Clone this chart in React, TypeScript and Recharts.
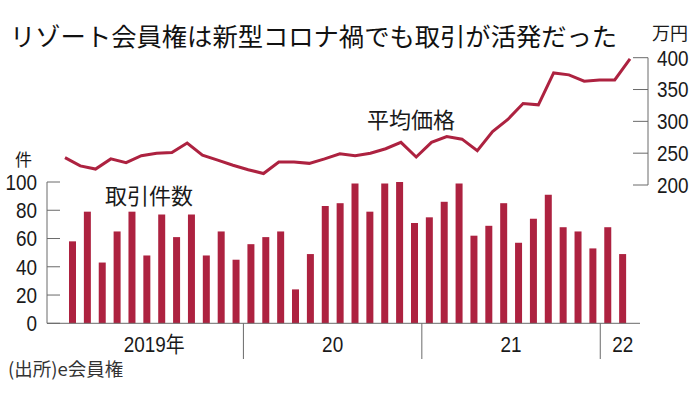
import React from 'react';
import { ComposedChart, Bar, Line, XAxis, YAxis } from 'recharts';

const months = [
  '2019-01', '2019-02', '2019-03', '2019-04', '2019-05', '2019-06', '2019-07', '2019-08', '2019-09', '2019-10', '2019-11', '2019-12',
  '2020-01', '2020-02', '2020-03', '2020-04', '2020-05', '2020-06', '2020-07', '2020-08', '2020-09', '2020-10', '2020-11', '2020-12',
  '2021-01', '2021-02', '2021-03', '2021-04', '2021-05', '2021-06', '2021-07', '2021-08', '2021-09', '2021-10', '2021-11', '2021-12',
  '2022-01', '2022-02',
];
const counts = [
  58, 79, 43, 65, 79, 48, 77, 61, 77, 48, 65, 45,
  56, 61, 65, 24, 49, 83, 85, 99, 79, 99, 100, 71,
  75, 86, 99, 62, 69, 85, 57, 74, 91, 68, 65, 53,
  68, 49,
];
const prices = [
  243, 230, 225, 241, 235, 246, 250, 251, 266, 247, 239, 231,
  224, 218, 236, 236, 234, 241, 249, 246, 250, 257, 267, 244,
  267, 276, 272, 254, 284, 303, 328, 326, 376, 373, 363, 365,
  365, 398,
];
const countTicks = [0, 20, 40, 60, 80, 100];
const priceTicks = [200, 250, 300, 350, 400];
const yearTicks = ['2019-01', '2020-01', '2021-01', '2022-01'];
const yearLabels = ['2019年', '20', '21', '22'];

const title = 'リゾート会員権は新型コロナ禍でも取引が活発だった';
const unitRight = '万円';
const unitLeft = '件';
const countLabel = '取引件数';
const priceLabel = '平均価格';
const source = '(出所)e会員権';

const data = months.map((m, i) => ({ m, count: counts[i], price: prices[i] }));

// layout
const W = 696;
const H = 399;
const PLOT_L = 47;
const A_PLOT_R = 640;
const B_PLOT_R = 648;
const PAD_L = 18;
const PAD_R_A = 10;
const PAD_R_B = 18;
const A_TOP = 182;
const A_BOTTOM = 323.3;
const B_TOP = 57.7;
const B_BOTTOM = 185;
const BAND = (A_PLOT_R - PLOT_L - PAD_L - PAD_R_A) / months.length;

const RED = '#ad2240';
const AXIS = '#6a6a6a';
const NUM_FONT = '"Liberation Sans", "Noto Sans CJK JP", sans-serif';
const CJK_FONT = '"Noto Sans CJK JP", "Noto Sans", sans-serif';
const SX = 0.86;

const NumText = ({ x, y, anchor, children }: any) => (
  <text
    transform={`translate(${x} ${y}) scale(${SX} 1)`}
    x={0}
    y={0}
    dy="0.36em"
    textAnchor={anchor}
    fontSize={22}
    fill="#1a1a1a"
    fontFamily={NUM_FONT}
  >
    {children}
  </text>
);

const LeftTick = (props: any) => {
  const { y, payload } = props;
  return (
    <g>
      <line x1={PLOT_L} x2={PLOT_L + 13} y1={y} y2={y} stroke={AXIS} strokeWidth={1} />
      <NumText x={37} y={y} anchor="end">{payload.value}</NumText>
    </g>
  );
};

const RightTick = (props: any) => {
  const { y, payload } = props;
  return (
    <g>
      <line x1={B_PLOT_R - 15} x2={B_PLOT_R} y1={y} y2={y} stroke={AXIS} strokeWidth={1} />
      <NumText x={657} y={y} anchor="start">{payload.value}</NumText>
    </g>
  );
};

const YearTick = (props: any) => {
  const { x, payload } = props;
  const idx = yearTicks.indexOf(payload.value);
  if (idx < 0) return <g />;
  const divX = x - BAND / 2;
  const last = idx === yearTicks.length - 1;
  return (
    <g>
      {idx > 0 && <line x1={divX} x2={divX} y1={A_BOTTOM} y2={359} stroke={AXIS} strokeWidth={1} />}
      <NumText x={last ? divX + 12 : x + 5.5 * BAND} y={344} anchor={last ? 'start' : 'middle'}>
        {yearLabels[idx]}
      </NumText>
    </g>
  );
};

export default function App() {
  return (
    <div style={{ position: 'absolute', left: 0, top: 0, width: W, height: H, background: '#fff', overflow: 'hidden' }}>
      <div style={{ position: 'absolute', left: 0, top: 0 }}>
        <ComposedChart
          width={W}
          height={H}
          data={data}
          margin={{ top: A_TOP, right: W - A_PLOT_R, bottom: H - A_BOTTOM - 40, left: 0 }}
        >
          <XAxis
            dataKey="m"
            height={40}
            padding={{ left: PAD_L, right: PAD_R_A }}
            axisLine={{ stroke: AXIS, strokeWidth: 1 }}
            tickLine={false}
            interval={0}
            tick={<YearTick />}
          />
          <YAxis
            yAxisId="left"
            width={PLOT_L}
            domain={[0, 100]}
            ticks={countTicks}
            axisLine={{ stroke: AXIS, strokeWidth: 1 }}
            tickLine={false}
            tick={<LeftTick />}
          />
          <Bar yAxisId="left" dataKey="count" fill={RED} barSize={7} isAnimationActive={false} />
        </ComposedChart>
      </div>
      <div style={{ position: 'absolute', left: 0, top: 0, pointerEvents: 'none' }}>
        <ComposedChart
          width={W}
          height={H}
          data={data}
          margin={{ top: B_TOP, right: 0, bottom: H - B_BOTTOM, left: PLOT_L }}
        >
          <XAxis dataKey="m" hide padding={{ left: PAD_L, right: PAD_R_B }} />
          <YAxis
            yAxisId="right"
            orientation="right"
            width={W - B_PLOT_R}
            domain={[200, 400]}
            ticks={priceTicks}
            axisLine={{ stroke: AXIS, strokeWidth: 1 }}
            tickLine={false}
            tick={<RightTick />}
          />
          <Line
            yAxisId="right"
            dataKey="price"
            type="linear"
            stroke={RED}
            strokeWidth={3}
            dot={false}
            isAnimationActive={false}
          />
        </ComposedChart>
      </div>
      <svg width={W} height={H} style={{ position: 'absolute', left: 0, top: 0, pointerEvents: 'none' }}>
        <text x={10} y={35} dominantBaseline="central" fontSize={25.3} fill="#111" fontFamily={CJK_FONT}>
          {title}
        </text>
        <text x={652} y={32} dominantBaseline="central" fontSize={18} fill="#1a1a1a" fontFamily={CJK_FONT}>
          {unitRight}
        </text>
        <text x={15} y={158} dominantBaseline="central" fontSize={17} fill="#1a1a1a" fontFamily={CJK_FONT}>
          {unitLeft}
        </text>
        <text x={105} y={194} dominantBaseline="central" fontSize={22} fill="#1a1a1a" fontFamily={CJK_FONT}>
          {countLabel}
        </text>
        <text x={367} y={118} dominantBaseline="central" fontSize={22} fill="#1a1a1a" fontFamily={CJK_FONT}>
          {priceLabel}
        </text>
        <text x={8} y={368} dominantBaseline="central" fontSize={18.5} fill="#333" fontFamily={CJK_FONT}>
          {source}
        </text>
      </svg>
    </div>
  );
}
